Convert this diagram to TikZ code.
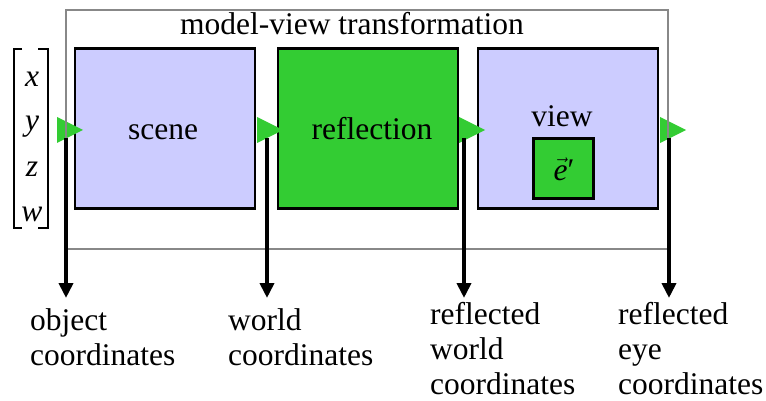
\documentclass[tikz,border=0pt]{standalone}
\usepackage{fontspec}
\setmainfont{Liberation Serif}
\usetikzlibrary{arrows.meta}
\definecolor{lav}{RGB}{204,204,255}
\definecolor{grn}{RGB}{51,204,51}
\definecolor{framegray}{RGB}{136,136,136}
\tikzset{
  txt/.style={font=\fontsize{31.5}{35}\selectfont, inner sep=0pt},
  stage/.style={draw=black, line width=2.5pt, inner sep=0pt},
  flow/.style={fill=grn, draw=none},
  outarrow/.style={line width=4pt, -{Triangle[length=15pt,width=14pt]}},
  lbl/.style={txt, align=left, anchor=base west},
}
\begin{document}
\begin{tikzpicture}[x=1pt,y=-1pt]
\useasboundingbox (0,0) rectangle (766,401);

% stage boxes
\node[stage, fill=lav, minimum width=180pt, minimum height=160pt] (scene) at (165,128.5) {};
\node[stage, fill=grn, minimum width=180pt, minimum height=160pt] (refl) at (368,128.5) {};
\node[stage, fill=lav, minimum width=180pt, minimum height=160pt] (view) at (568,128.5) {};
\node[stage, fill=grn, minimum width=60pt, minimum height=60pt] (eye) at (563.5,168.5) {};

\node[txt, anchor=base] (scenetxt) at (163,140) {scene};
\node[txt, anchor=base] (refltxt) at (372,140) {reflection};
\node[txt, anchor=base] (viewtxt) at (562,127) {view};
\node[txt, anchor=base] (etxt) at (564,180) {$\vec{\textit{e}}$′};

% homogeneous coordinate vector
\draw[line width=2.5pt] (22,49) -- (14,49) -- (14,228) -- (22,228);
\draw[line width=2.5pt] (38,49) -- (48,49) -- (48,228) -- (38,228);
\node[txt, anchor=base] (vx) at (32,87) {\textit{x}};
\node[txt, anchor=base] (vy) at (32,131) {\textit{y}};
\node[txt, anchor=base] (vz) at (32,177) {\textit{z}};
\node[txt, anchor=base] (vw) at (32,222) {\textit{w}};

% flow markers between stages
\coordinate (p0) at (57,130);
\coordinate (p1) at (257,130);
\coordinate (p2) at (459,130);
\coordinate (p3) at (660,130);
\foreach \p in {p0,p1,p2,p3}
  \fill[flow] ([yshift=-13pt]\p) -- ([yshift=13pt]\p) -- ([xshift=26pt]\p) -- cycle;

% model-view frame
\draw[framegray, line width=2.5pt] (66,10) rectangle (668,249);
\node[txt, anchor=base] (title) at (352,35) {model-view transformation};

% coordinate outputs (anchored at the baseline of the last line)
\node[lbl] (objlbl) at (30,365) {object\\coordinates};
\node[lbl] (wldlbl) at (228,365) {world\\coordinates};
\node[lbl] (rwlbl) at (430,394) {reflected\\world\\coordinates};
\node[lbl] (relbl) at (618,394) {reflected\\eye\\coordinates};

\coordinate (s0) at (66,138);
\coordinate (s1) at (267,138);
\coordinate (s2) at (464,138);
\coordinate (s3) at (669,138);
\coordinate (e0) at (66,298);
\coordinate (e1) at (267,298);
\coordinate (e2) at (464,298);
\coordinate (e3) at (669,298);
\draw[outarrow] (s0) -- (e0);
\draw[outarrow] (s1) -- (e1);
\draw[outarrow] (s2) -- (e2);
\draw[outarrow] (s3) -- (e3);
\end{tikzpicture}
\end{document}
